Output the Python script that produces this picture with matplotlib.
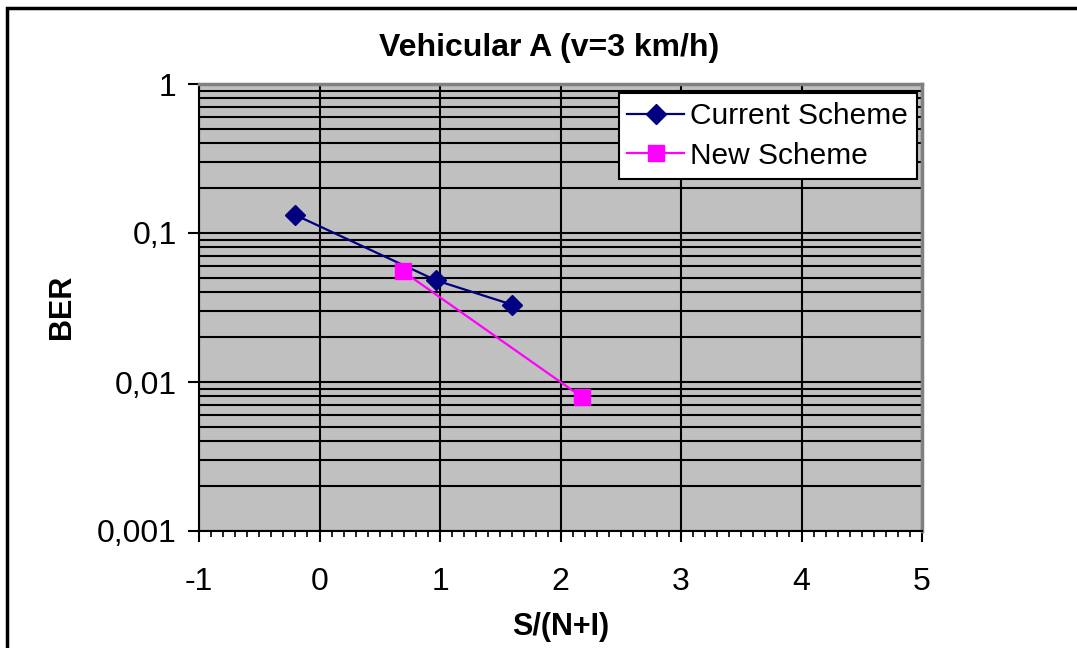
import matplotlib
matplotlib.use("Agg")
import matplotlib.pyplot as plt
from matplotlib.ticker import FixedLocator, MultipleLocator, LogLocator, NullFormatter
from matplotlib.patches import Rectangle
import numpy as np

title = "Vehicular A (v=3 km/h)"
xlabel = "S/(N+I)"
ylabel = "BER"
current_x = [-0.2, 0.97, 1.6]
current_y = [0.132, 0.048, 0.033]
new_x = [0.69, 2.18]
new_y = [0.0555, 0.0079]
xticks = [-1, 0, 1, 2, 3, 4, 5]
yticks = [0.001, 0.01, 0.1, 1]
ytick_labels = ["0,001", "0,01", "0,1", "1"]

plt.rcParams['font.family'] = ['Liberation Sans', 'DejaVu Sans']

fig = plt.figure(figsize=(10.77, 6.48), dpi=100)
fig.patch.set_facecolor('white')
W, H = 1077, 648
ax = fig.add_axes([199 / W, 1 - 531 / H, (922 - 199) / W, (531 - 84) / H])
ax.set_facecolor('#c0c0c0')
ax.set_yscale('log')
ax.set_xlim(-1, 5)
ax.set_ylim(0.001, 1)

ax.yaxis.set_major_locator(FixedLocator(yticks))
ax.set_yticklabels(ytick_labels)
ax.yaxis.set_minor_locator(LogLocator(base=10, subs=np.arange(2, 10)))
ax.yaxis.set_minor_formatter(NullFormatter())
ax.xaxis.set_major_locator(FixedLocator(xticks))
ax.set_xticklabels([str(v) for v in xticks])
ax.xaxis.set_minor_locator(MultipleLocator(0.1))

ax.grid(True, which='major', axis='both', color='black', linewidth=1.5)
ax.grid(True, which='minor', axis='y', color='black', linewidth=1.5)
ax.set_axisbelow(True)

ax.tick_params(axis='both', which='major', labelsize=23, direction='out', length=8, width=1.5, color='black')
ax.tick_params(axis='y', which='major', pad=8)
ax.tick_params(axis='x', which='major', pad=18)
ax.tick_params(axis='y', which='minor', length=0)
ax.tick_params(axis='x', which='minor', direction='out', length=4.5, width=1.2)

for s in ['left', 'bottom']:
    ax.spines[s].set_color('black')
    ax.spines[s].set_linewidth(1.5)
for s in ['top', 'right']:
    ax.spines[s].set_color('#808080')
    ax.spines[s].set_linewidth(2.5)

ax.plot(current_x, current_y, color='#000080', linewidth=1.6, marker='D', markersize=10,
        markerfacecolor='#000080', markeredgecolor='#000080', label='Current Scheme', zorder=3)
ax.plot(new_x, new_y, color='#ff00ff', linewidth=1.6, marker='s', markersize=11,
        markerfacecolor='#ff00ff', markeredgecolor='#ff00ff', label='New Scheme', zorder=3)

leg = ax.legend(loc='upper right', bbox_to_anchor=(1 - 5 / 723, 1 - 9 / 447), fontsize=21.5,
                frameon=True, fancybox=False, framealpha=1, edgecolor='black',
                handlelength=1.9, handletextpad=0.2, borderpad=0.3, labelspacing=0.4,
                borderaxespad=0)
leg.get_frame().set_linewidth(1.5)

fig.text(549 / W, 1 - 48 / H, title, ha='center', va='center', fontsize=23, fontweight='bold')
fig.text(560.5 / W, 1 - 627 / H, xlabel, ha='center', va='center', fontsize=22, fontweight='bold')
fig.text(62 / W, 1 - 307 / H, ylabel, ha='center', va='center', fontsize=22, fontweight='bold', rotation=90)

fig.add_artist(Rectangle((7 / W, -0.1), 1.2, 1 - 8 / H + 0.1, transform=fig.transFigure,
                         fill=False, edgecolor='black', linewidth=2.5))

fig.savefig('out.png', dpi=100, facecolor='white')
